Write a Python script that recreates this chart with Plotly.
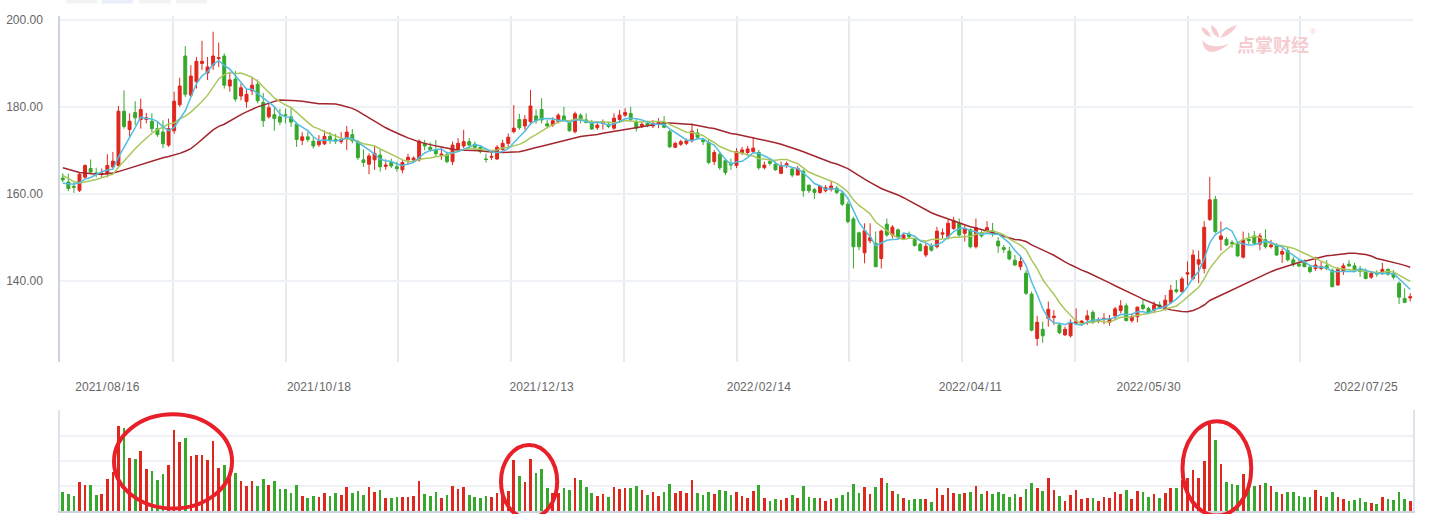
import numpy as np
import pandas as pd
import plotly.graph_objects as go

# ---------------- data ----------------
open_ = [
    163.6, 162.7, 161.7, 160.8, 163.8, 165.8, 164.8, 164.5, 164.6, 166.2,
    166.5, 179.0, 174.8, 178.7, 177.1, 177.1, 176.7, 175.0, 174.2, 171.2,
    174.5, 180.5, 191.7, 182.7, 185.8, 190.0, 187.8, 189.6, 191.1, 191.7,
    184.8, 186.4, 182.5, 181.2, 183.7, 185.2, 181.0, 177.7, 178.2, 177.7,
    178.2, 177.7, 176.0, 172.3, 173.1, 172.1, 171.3, 171.5, 173.2, 172.5,
    172.0, 172.8, 173.6, 172.0, 167.8, 166.8, 167.8, 168.9, 166.3, 167.2,
    166.2, 165.5, 167.8, 167.8, 167.8, 171.6, 170.7, 170.1, 168.9, 169.0,
    167.4, 170.2, 171.0, 172.0, 171.4, 170.7, 168.0, 168.4, 168.0, 170.2,
    171.6, 174.3, 177.1, 175.6, 176.6, 177.9, 179.4, 176.1, 175.8, 176.6,
    177.9, 176.4, 174.3, 178.1, 177.0, 176.4, 175.2, 176.2, 176.0, 175.1,
    177.1, 178.1, 178.5, 176.6, 175.6, 176.2, 175.6, 176.2, 176.4, 174.3,
    170.7, 171.4, 171.6, 172.2, 174.0, 172.4, 171.8, 167.4, 169.1, 167.6,
    167.0, 166.5, 169.5, 169.5, 169.7, 169.5, 166.0, 167.4, 166.8, 164.7,
    166.6, 165.7, 164.3, 165.2, 162.0, 161.0, 160.3, 160.7, 161.0, 161.3,
    160.1, 157.6, 154.2, 151.0, 146.4, 149.2, 148.6, 145.1, 153.0, 150.5,
    151.7, 149.7, 150.7, 149.5, 148.4, 145.9, 148.0, 147.8, 150.7, 150.1,
    152.0, 153.2, 150.9, 151.7, 147.8, 151.0, 151.4, 151.5, 149.1, 147.6,
    146.8, 144.7, 143.2, 141.7, 136.9, 126.7, 128.8, 131.3, 131.5, 129.8,
    127.5, 127.3, 130.2, 130.2, 131.0, 132.7, 130.6, 131.1, 130.4, 131.9,
    133.1, 134.2, 130.8, 131.7, 134.4, 133.6, 133.2, 134.4, 133.6, 135.0,
    137.9, 137.5, 141.5, 140.5, 143.8, 142.8, 154.1, 158.7, 149.5, 149.5,
    148.8, 148.4, 145.4, 149.5, 150.3, 148.4, 149.4, 147.8, 148.2, 146.1,
    146.9, 144.8, 143.8, 144.1, 143.1, 142.8, 142.8, 143.4, 142.4, 139.0,
    142.1, 143.8, 143.4, 142.6, 142.3, 140.8, 141.8, 142.1, 142.6, 141.7,
    139.4, 135.9, 136.0,
]
high = [
    164.7, 164.6, 162.7, 164.8, 166.8, 167.9, 166.0, 165.8, 169.1, 169.6,
    180.2, 183.8, 178.5, 181.3, 181.9, 178.6, 178.5, 176.5, 176.9, 177.3,
    183.5, 186.7, 194.0, 189.6, 191.5, 195.2, 191.5, 197.3, 194.8, 192.3,
    188.1, 188.3, 185.4, 184.2, 186.9, 186.3, 183.2, 180.9, 180.0, 179.6,
    179.6, 180.0, 176.5, 174.2, 174.2, 173.1, 173.5, 174.6, 174.2, 173.8,
    174.2, 175.6, 174.9, 172.4, 170.2, 169.3, 171.0, 170.2, 167.9, 168.1,
    167.4, 167.8, 169.2, 168.6, 172.5, 172.4, 171.8, 172.4, 170.7, 169.7,
    172.0, 172.8, 174.7, 172.8, 172.0, 171.2, 169.2, 169.7, 171.2, 172.4,
    173.9, 180.4, 178.4, 178.1, 183.9, 179.4, 182.0, 177.0, 177.6, 178.5,
    180.0, 176.6, 178.9, 178.5, 178.5, 177.0, 176.7, 177.1, 176.6, 178.5,
    179.3, 179.7, 180.0, 177.1, 176.6, 176.8, 177.0, 177.4, 177.9, 174.7,
    172.0, 172.4, 172.7, 176.2, 175.0, 172.8, 172.5, 170.1, 169.7, 168.1,
    168.1, 170.5, 170.8, 171.0, 173.1, 170.1, 167.4, 168.2, 167.4, 167.4,
    167.4, 166.2, 166.4, 165.6, 162.0, 161.3, 162.0, 162.0, 163.0, 161.8,
    160.5, 158.2, 154.7, 151.3, 153.2, 153.2, 151.3, 151.7, 154.3, 152.8,
    152.0, 150.9, 151.3, 149.7, 148.7, 148.6, 148.6, 152.4, 152.0, 154.0,
    154.7, 154.3, 152.8, 152.0, 154.3, 151.5, 153.7, 153.3, 150.0, 148.2,
    147.8, 145.9, 145.5, 142.4, 137.5, 131.9, 130.6, 135.2, 133.2, 130.2,
    129.4, 131.1, 133.6, 130.9, 133.2, 133.2, 131.5, 132.5, 132.1, 134.0,
    135.5, 134.8, 132.5, 134.0, 135.7, 134.0, 135.2, 135.2, 136.7, 139.0,
    140.1, 140.9, 144.4, 147.1, 146.9, 153.7, 163.9, 159.5, 153.6, 150.0,
    149.3, 149.0, 151.3, 151.0, 151.4, 150.9, 151.8, 149.4, 148.6, 147.4,
    147.8, 145.5, 144.9, 144.9, 143.6, 145.5, 144.4, 144.7, 142.8, 143.1,
    144.0, 144.7, 144.1, 143.4, 142.8, 142.0, 142.4, 144.1, 142.8, 142.4,
    139.8, 138.2, 137.1,
]
low = [
    162.7, 160.6, 160.2, 160.4, 163.5, 164.6, 163.8, 163.8, 163.8, 165.8,
    166.2, 175.0, 173.1, 175.8, 175.0, 176.2, 174.2, 173.1, 170.5, 170.8,
    173.8, 180.0, 182.3, 182.3, 184.2, 188.5, 186.2, 188.5, 189.2, 184.2,
    183.5, 181.2, 181.5, 179.8, 182.7, 180.8, 175.4, 177.3, 174.5, 175.8,
    176.2, 175.4, 170.8, 171.2, 171.9, 170.4, 170.8, 171.2, 171.5, 171.5,
    171.5, 170.1, 171.6, 167.8, 166.2, 164.5, 165.5, 165.1, 165.5, 165.9,
    165.1, 164.7, 166.6, 167.4, 167.4, 170.0, 169.7, 168.5, 167.8, 167.0,
    166.6, 169.7, 170.5, 170.5, 170.1, 169.3, 167.2, 167.8, 167.8, 169.9,
    170.8, 173.9, 174.7, 174.7, 175.8, 176.1, 176.2, 175.1, 175.4, 176.2,
    176.6, 174.3, 173.9, 176.2, 176.2, 174.7, 174.7, 174.8, 175.1, 174.7,
    176.6, 177.7, 176.6, 174.3, 175.1, 175.3, 175.1, 175.1, 175.1, 170.5,
    170.5, 171.0, 171.2, 171.8, 172.6, 171.2, 166.8, 166.6, 165.5, 164.3,
    165.5, 165.9, 168.9, 168.9, 169.3, 165.5, 165.6, 166.5, 165.3, 164.5,
    165.9, 163.8, 164.3, 159.3, 160.2, 158.8, 160.0, 160.3, 160.5, 159.9,
    157.2, 153.2, 142.8, 147.0, 144.0, 148.6, 143.2, 142.8, 150.1, 149.7,
    149.7, 149.4, 149.7, 147.8, 146.7, 145.4, 146.7, 147.4, 149.7, 149.7,
    151.7, 150.1, 149.0, 147.4, 147.4, 149.9, 151.0, 150.1, 146.4, 146.4,
    144.7, 143.4, 142.4, 136.7, 128.3, 125.0, 125.7, 129.4, 129.8, 127.7,
    127.3, 126.9, 129.8, 129.8, 129.8, 130.0, 130.2, 130.0, 129.6, 131.0,
    132.5, 130.6, 130.3, 130.4, 133.2, 132.5, 132.5, 133.4, 133.1, 134.6,
    137.1, 137.2, 139.0, 140.1, 139.4, 141.7, 153.7, 150.9, 146.9, 148.0,
    147.6, 145.5, 145.1, 148.4, 148.2, 147.0, 147.4, 147.4, 145.7, 144.1,
    144.4, 143.2, 143.1, 143.1, 141.7, 142.3, 142.4, 142.4, 138.5, 138.8,
    141.3, 143.1, 142.1, 140.9, 140.3, 140.4, 140.9, 141.3, 141.1, 140.3,
    134.6, 134.8, 135.2,
]
close = [
    163.2, 161.2, 161.5, 164.5, 166.5, 165.0, 164.6, 164.7, 166.5, 167.5,
    179.0, 175.5, 176.7, 177.5, 179.4, 177.5, 175.0, 173.6, 171.5, 175.0,
    181.3, 184.8, 182.9, 187.1, 190.5, 190.5, 189.2, 191.7, 191.3, 185.0,
    186.2, 181.8, 184.4, 182.9, 185.0, 181.4, 176.8, 179.8, 177.3, 176.5,
    178.0, 176.5, 172.5, 173.1, 172.5, 171.0, 172.1, 173.2, 172.3, 172.1,
    172.5, 174.2, 172.2, 168.3, 167.2, 168.7, 169.3, 166.2, 166.6, 166.4,
    165.8, 167.2, 168.4, 168.2, 172.1, 171.0, 170.2, 169.2, 169.1, 167.4,
    171.2, 171.6, 172.0, 171.2, 170.7, 169.7, 167.9, 168.6, 170.7, 171.6,
    173.0, 175.1, 175.2, 177.1, 180.2, 176.8, 177.0, 175.6, 176.8, 178.1,
    177.0, 174.5, 178.4, 177.0, 176.4, 174.9, 175.8, 176.6, 175.5, 177.4,
    178.1, 178.7, 177.1, 175.1, 176.0, 175.8, 176.2, 176.6, 175.3, 170.8,
    171.6, 172.0, 172.2, 174.4, 173.0, 172.0, 167.2, 169.5, 166.0, 164.9,
    166.6, 169.7, 170.1, 170.3, 170.5, 166.0, 166.6, 167.0, 165.5, 166.5,
    166.9, 164.3, 165.8, 160.7, 160.7, 160.3, 161.8, 161.4, 161.8, 160.3,
    157.6, 153.6, 147.8, 147.8, 151.5, 149.9, 143.2, 151.4, 150.5, 152.3,
    150.1, 150.5, 150.1, 148.1, 146.9, 147.9, 147.0, 151.4, 151.0, 153.2,
    153.8, 150.5, 152.0, 147.8, 152.2, 150.3, 152.2, 151.0, 148.0, 147.2,
    145.0, 143.6, 144.4, 137.1, 128.6, 130.4, 127.3, 133.4, 131.8, 128.0,
    128.8, 130.4, 130.7, 130.7, 131.9, 130.6, 131.0, 131.3, 131.2, 133.5,
    134.2, 130.8, 131.7, 133.9, 133.6, 132.9, 134.4, 133.6, 135.5, 137.8,
    137.5, 140.4, 141.8, 145.9, 144.8, 152.3, 158.6, 151.3, 150.3, 148.2,
    148.5, 145.7, 149.4, 149.2, 148.6, 150.3, 147.8, 148.2, 145.9, 146.7,
    144.8, 143.8, 143.4, 143.2, 142.1, 143.6, 143.2, 142.8, 138.6, 142.6,
    143.4, 143.4, 142.3, 142.1, 140.5, 141.7, 141.5, 142.6, 141.5, 140.8,
    136.2, 135.0, 136.3,
]
volume = [
    18.5, 16.5, 14.9, 28.4, 25.7, 25.7, 15.8, 16.8, 31.7, 38.9,
    84.2, 82.8, 53.1, 52.1, 59.4, 41.6, 39.6, 30.7, 37.3, 46.2,
    80.2, 68.6, 72.9, 54.5, 56.1, 56.1, 50.5, 69.3, 43.2, 46.2,
    35.6, 38.3, 29.7, 24.8, 29.7, 24.8, 31.7, 25.7, 29.7, 21.8,
    21.8, 17.5, 25.7, 14.9, 13.2, 14.9, 14.2, 18.2, 14.9, 17.5,
    15.8, 23.8, 17.5, 19.8, 15.8, 23.8, 18.5, 20.8, 13.2, 13.2,
    14.2, 14.2, 14.2, 14.9, 29.7, 16.8, 14.9, 18.5, 13.2, 15.8,
    24.8, 21.8, 23.8, 15.8, 13.9, 13.2, 14.9, 13.9, 18.2, 15.8,
    19.8, 50.5, 34.7, 28.7, 51.5, 37.6, 41.6, 22.8, 18.2, 18.2,
    22.8, 20.8, 32.7, 30.7, 24.1, 17.8, 14.9, 16.8, 13.9, 23.8,
    21.8, 22.8, 22.8, 24.8, 20.8, 15.8, 18.8, 14.9, 18.8, 26.7,
    17.8, 19.8, 17.8, 30.7, 17.8, 15.8, 18.8, 16.8, 20.8, 19.8,
    15.8, 18.8, 14.9, 12.9, 19.8, 25.7, 12.9, 9.9, 11.9, 10.9,
    12.9, 15.8, 12.9, 24.8, 13.9, 12.9, 12.9, 9.9, 11.9, 12.9,
    15.8, 18.8, 26.7, 17.8, 23.8, 16.8, 23.8, 32.7, 27.7, 19.8,
    16.8, 12.9, 10.9, 11.9, 11.9, 11.9, 8.9, 22.8, 15.8, 22.8,
    17.8, 16.8, 17.8, 18.8, 24.8, 16.8, 19.8, 16.8, 18.8, 16.8,
    13.9, 16.8, 13.9, 21.8, 27.7, 22.8, 19.8, 32.7, 20.8, 14.9,
    9.9, 15.8, 20.8, 11.9, 12.9, 12.9, 9.9, 13.9, 12.9, 18.8,
    16.8, 20.8, 11.9, 19.8, 18.8, 13.9, 16.8, 12.9, 17.8, 22.8,
    22.8, 30.7, 33.3, 40.6, 32.7, 49.5, 86.8, 70.3, 47.2, 28.7,
    26.7, 25.7, 37.3, 26.7, 24.8, 25.7, 27.4, 24.8, 18.8, 16.8,
    18.8, 18.8, 14.9, 13.9, 13.9, 20.8, 14.9, 13.9, 18.8, 13.9,
    11.9, 9.9, 10.9, 12.9, 8.9, 7.9, 6.9, 13.9, 11.9, 10.9,
    18.8, 11.9, 9.9,
]
# moving-average values at the left edge (their windows start before the visible data)
ma5_head = [162.4, 162.3, 162.2, 162.6]
ma10_head = [164.2, 163.5, 162.8, 162.5, 162.7, 163.0, 163.3, 163.7, 164.2]
ma30_head = [166.0, 165.6, 165.2, 164.9, 164.8, 164.6, 164.5, 164.5, 164.6, 164.8,
             165.1, 165.5, 165.9, 166.3, 166.8, 167.2, 167.6, 168.0, 168.3, 168.6,
             168.9, 169.3, 169.8, 170.4, 171.4, 172.6, 173.6, 174.7, 175.5]
tick_pos = [8, 46, 86, 125, 163, 195, 234]
tick_labels = ["2021/08/16", "2021/10/18", "2021/12/13", "2022/02/14",
               "2022/04/11", "2022/05/30", "2022/07/25"]
price_ticks = [140, 160, 180, 200]

# ---------------- styles ----------------
RED = "#e0271d"
GREEN = "#36a82c"
MA5_C = "#52bde0"
MA10_C = "#a9c85c"
MA30_C = "#a3252d"
GRID_H = "#eef1f6"
GRID_V = "#e6ebf2"
AXLINE = "#ccd4e2"
FONT = "Liberation Sans, Arial, sans-serif"
HS = "\u200a"  # hair space: the reference labels are loosely spaced around "/"

n = len(close)
day = list(range(n))
s = pd.Series(close, dtype=float)


def moving(win, head):
    m = s.rolling(win).mean().round(3).tolist()
    m[:len(head)] = head
    return m


ma5 = moving(5, ma5_head)
ma10 = moving(10, ma10_head)
ma30 = moving(30, ma30_head)
vol_colors = [RED if c >= o else GREEN for o, c in zip(open_, close)]

fig = go.Figure()
fig.add_trace(go.Candlestick(
    x=day, open=open_, high=high, low=low, close=close,
    increasing=dict(line=dict(color=RED, width=1), fillcolor=RED),
    decreasing=dict(line=dict(color=GREEN, width=1), fillcolor=GREEN),
    whiskerwidth=0, xaxis="x", yaxis="y", showlegend=False, hoverinfo="skip"))
for ma, col in [(ma30, MA30_C), (ma10, MA10_C), (ma5, MA5_C)]:
    fig.add_trace(go.Scatter(x=day, y=ma, mode="lines",
                             line=dict(color=col, width=1.5),
                             xaxis="x", yaxis="y", showlegend=False, hoverinfo="skip"))
fig.add_trace(go.Bar(x=day, y=volume, width=0.48,
                     marker=dict(color=vol_colors, line=dict(width=0)),
                     xaxis="x2", yaxis="y2", showlegend=False, hoverinfo="skip"))

# geometry helpers (page pixels -> paper fractions), margins l=60 r=19 t=16 b=3
L, R, T, B, W, H = 60, 19, 16, 3, 1432, 514
PW, PH = W - L - R, H - T - B


def px(x):
    return (x - L) / PW


def py(y):
    return (H - B - y) / PH


vgrid = [-0.5 + k * n / 12 for k in range(13)]

fig.update_layout(
    width=W, height=H, margin=dict(l=L, r=R, t=T, b=B),
    paper_bgcolor="white", plot_bgcolor="white",
    boxgap=0.25, bargap=0, showlegend=False, hovermode=False,
    xaxis=dict(domain=[0, 1], anchor="y", range=[-0.5, n - 0.5],
               tickmode="array", tickvals=tick_pos,
               ticktext=[t.replace("/", HS + "/" + HS) for t in tick_labels],
               showgrid=False, zeroline=False, showline=False, ticks="",
               tickfont=dict(family=FONT, size=12, color="#666666"),
               ticklabelstandoff=16,
               rangeslider=dict(visible=False),
               minor=dict(tickmode="array", tickvals=vgrid, showgrid=True,
                          gridcolor=GRID_V, gridwidth=2, ticks="")),
    yaxis=dict(domain=[py(362), 1], anchor="x", range=[121.27, 200.92],
               tickmode="array", tickvals=price_ticks,
               ticktext=[f"{v:.2f}" for v in price_ticks],
               showgrid=True, gridcolor=GRID_H, gridwidth=1.5,
               zeroline=False, showline=True, linecolor=AXLINE, linewidth=1.5,
               ticks="", ticklabelstandoff=13,
               tickfont=dict(family=FONT, size=12, color="#666666")),
    xaxis2=dict(domain=[0, 1], anchor="y2", range=[-0.5, n - 0.5],
                showticklabels=False, showgrid=False, zeroline=False,
                showline=True, linecolor=AXLINE, linewidth=1.5, ticks=""),
    yaxis2=dict(domain=[0, py(410)], anchor="x2", range=[0, 100.6],
                tick0=0, dtick=25, showticklabels=False,
                showgrid=True, gridcolor=GRID_H, gridwidth=2,
                zeroline=False, showline=True, mirror=True,
                linecolor="#dde3ec", linewidth=1.5, ticks=""),
)

# red hand-drawn ellipses around the volume spikes
ellipses = [(9.2, 30.4, 0.025, 0.957), (78.7, 88.8, -0.073, 0.653),
            (201.1, 213.45, -0.045, 0.888)]
for x0, x1, y0, y1 in ellipses:
    fig.add_shape(type="circle", xref="x2", yref="y2 domain",
                  x0=x0, x1=x1, y0=y0, y1=y1,
                  line=dict(color="#e8202a", width=4))

# faint tab buttons at the very top
for (a, b), col in zip([(66, 97), (102, 133), (139, 171), (176, 207)],
                       ["#f3f3f3", "#e9eef8", "#f3f3f3", "#f3f3f3"]):
    fig.add_shape(type="rect", xref="paper", yref="paper",
                  x0=px(a), x1=px(b), y0=py(3.5), y1=py(-2),
                  fillcolor=col, line=dict(width=0), layer="below")

# watermark logo (a stylised hand) + name
WM = "#f5cdd1"


def leaf(ax, ay, bx, by, w):
    mx, my = (ax + bx) / 2, (ay + by) / 2
    dx, dy = bx - ax, by - ay
    ln = (dx * dx + dy * dy) ** 0.5
    nx, ny = -dy / ln * w, dx / ln * w
    p = lambda x, y: f"{px(x):.6f},{py(y):.6f}"
    return (f"M {p(ax, ay)} Q {p(mx + nx, my + ny)} {p(bx, by)} "
            f"Q {p(mx - nx, my - ny)} {p(ax, ay)} Z")


for args in [(1201, 27, 1211, 37, 4.5), (1211, 25, 1219, 38, 5),
             (1237, 25, 1220, 38, 5)]:
    fig.add_shape(type="path", xref="paper", yref="paper", path=leaf(*args),
                  fillcolor=WM, line=dict(width=0))
fig.add_shape(type="path", xref="paper", yref="paper",
              path=(f"M {px(1202)},{py(40)} Q {px(1205)},{py(62)} {px(1229)},{py(44)} "
                    f"Q {px(1210)},{py(50)} {px(1202)},{py(40)} Z"),
              fillcolor=WM, line=dict(width=0))
fig.add_annotation(xref="paper", yref="paper", x=px(1273), y=py(44),
                   text="点掌财经", showarrow=False, xanchor="center", yanchor="middle",
                   font=dict(family="Noto Sans CJK SC", size=18, color=WM, weight="bold"))
fig.add_annotation(xref="paper", yref="paper", x=px(1313), y=py(32),
                   text="®", showarrow=False, xanchor="center", yanchor="middle",
                   font=dict(family=FONT, size=8, color=WM))

fig.write_html("out.html")
